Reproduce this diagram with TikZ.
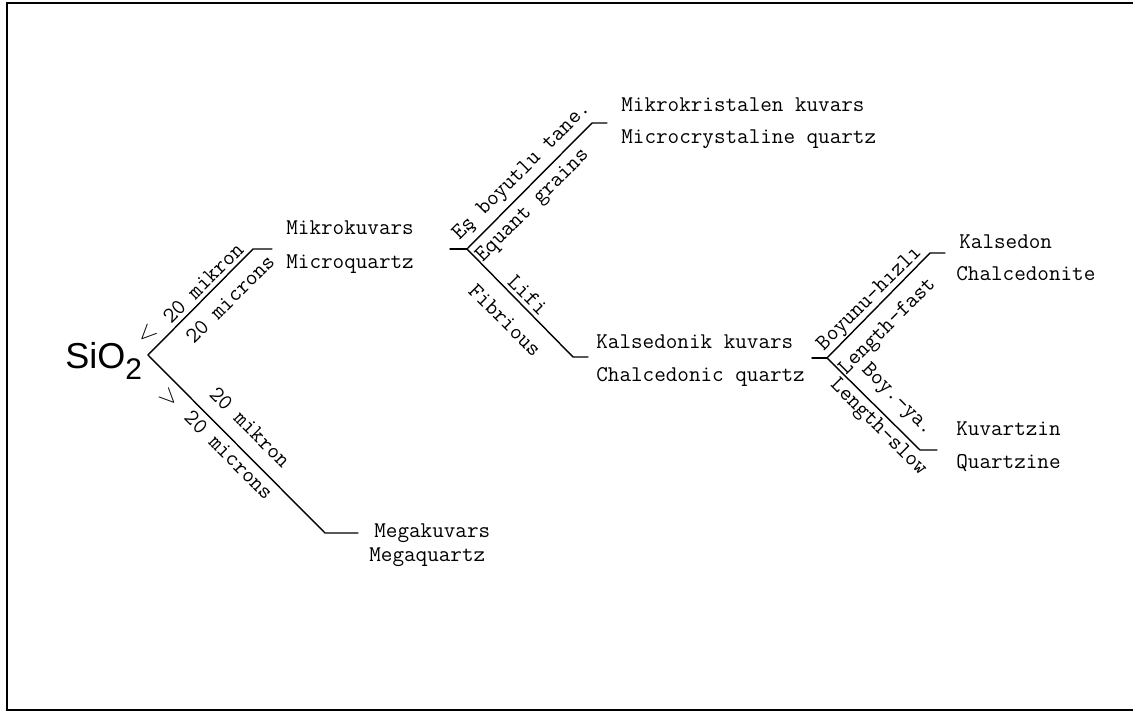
\documentclass[tikz,border=0pt]{standalone}
\usepackage{fontspec}
\usepackage{tikz}
\usetikzlibrary{positioning}
\newfontfamily\formulafont{Liberation Sans}

\begin{document}
\begin{tikzpicture}[
    x=0.02cm, y=-0.02cm,
    every node/.style={font=\fontsize{12.8}{14}\selectfont\ttfamily, inner sep=0pt},
    leaf/.style={anchor=base west},
    upcue/.style={rotate=45},
    downcue/.style={rotate=-45},
    sign/.style={font=\fontsize{15}{15}\selectfont},
    branch/.style={line width=0.8pt, line cap=round}
]
\useasboundingbox (0,0) rectangle (1133,713);

% Frame
\draw[line width=1.1pt] (1133,3) -- (7,3) -- (7,710) -- (1133,710);

% Root
\node[anchor=base west, font=\formulafont\fontsize{20.5}{24}\selectfont] (sio) at (65,368) {SiO\raisebox{-6.8pt}{\fontsize{17}{20}\selectfont 2}};

% Junctions
\coordinate (root) at (148,355);
\coordinate (microtop) at (253,249);
\coordinate (microend) at (272,249);
\coordinate (megatop) at (325,533);
\coordinate (megaend) at (358,533);
\coordinate (fork) at (467,249);
\coordinate (forkstub) at (450,249);
\coordinate (crystop) at (592,123);
\coordinate (crysend) at (607,123);
\coordinate (chaltop) at (573,357);
\coordinate (chalend) at (588,357);
\coordinate (split) at (827,358);
\coordinate (splitstub) at (812,358);
\coordinate (fasttop) at (930,253);
\coordinate (fastend) at (945,253);
\coordinate (slowtop) at (920,450);
\coordinate (slowend) at (937,450);

% Branches
\draw[branch] (microend) -- (microtop) -- (root) -- (megatop) -- (megaend);
\draw[branch] (forkstub) -- (fork);
\draw[branch] (crysend) -- (crystop) -- (fork) -- (chaltop) -- (chalend);
\draw[branch] (splitstub) -- (split);
\draw[branch] (fastend) -- (fasttop) -- (split) -- (slowtop) -- (slowend);

% Grain size
\node[upcue, sign] (lessthan) at (147,334) {$<$};
\node[upcue] (microtr) at (203,283) {20 mikron};
\node[upcue] (microen) at (230,299) {20 microns};
\node[downcue, sign] (morethan) at (169,398) {$>$};
\node[downcue] (megatr) at (250,427) {20 mikron};
\node[downcue] (megaen) at (229,455) {20 microns};

% Grain shape
\node[upcue] (equanttr) at (522,172) {Eş boyutlu tane.};
\node[upcue] (equanten) at (533,206) {Equant grains};
\node[downcue] (fibretr) at (528,295) {Lifi};
\node[downcue] (fibreen) at (505,320) {Fibrious};

% Elongation
\node[upcue] (fasttr) at (870,299) {Boyunu-hızlı};
\node[upcue] (fasten) at (888,327) {Length-fast};
\node[downcue] (slowtr) at (897,400) {Boy.-ya.};
\node[downcue] (slowen) at (878,428) {Length-slow};

% Quartz types
\node[leaf] (mikrokuvars) at (286,235) {Mikrokuvars};
\node[leaf] (microquartz) at (286,268) {Microquartz};
\node[leaf] (megakuvars) at (374,537) {Megakuvars};
\node[leaf] (megaquartz) at (369,561) {Megaquartz};
\node[leaf] (mikrokrist) at (621,112) {Mikrokristalen kuvars};
\node[leaf] (microcryst) at (621,144) {Microcrystaline quartz};
\node[leaf] (kalsedonik) at (596,348) {Kalsedonik kuvars};
\node[leaf] (chalcedonic) at (596,381) {Chalcedonic quartz};
\node[leaf] (kalsedon) at (959,248) {Kalsedon};
\node[leaf] (chalcedonite) at (956,280) {Chalcedonite};
\node[leaf] (kuvartzin) at (956,435) {Kuvartzin};
\node[leaf] (quartzine) at (956,468) {Quartzine};

\end{tikzpicture}
\end{document}
